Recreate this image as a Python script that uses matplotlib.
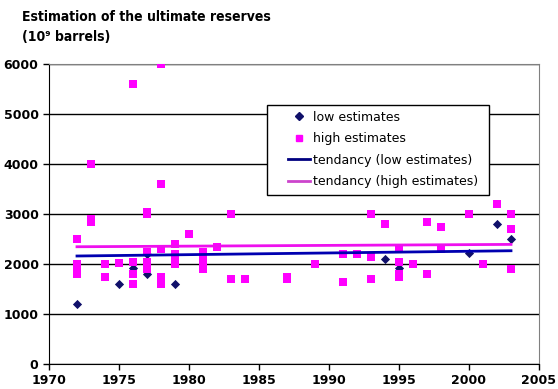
import matplotlib
matplotlib.use("Agg")
import matplotlib.pyplot as plt
from matplotlib.lines import Line2D
from matplotlib.legend_handler import HandlerLine2D
from matplotlib import font_manager

# ---- data ----
low_years = [1972, 1975, 1976, 1977, 1977, 1979, 1994, 1995, 2000, 2002, 2003]
low_values = [1200, 1600, 1930, 2200, 1800, 1600, 2100, 1920, 2230, 2800, 2500]

high_years = [1972, 1972, 1972, 1972, 1972,
              1973, 1973, 1973,
              1974, 1974,
              1975,
              1976, 1976, 1976, 1976,
              1977, 1977, 1977, 1977, 1977, 1977,
              1978, 1978, 1978, 1978, 1978,
              1979, 1979, 1979, 1979,
              1980,
              1981, 1981, 1981, 1981, 1981,
              1982,
              1983, 1983,
              1984,
              1987, 1987,
              1989,
              1991, 1991,
              1992,
              1993, 1993, 1993,
              1994,
              1995, 1995, 1995, 1995,
              1996,
              1997, 1997,
              1998, 1998,
              2000,
              2001,
              2002,
              2003, 2003, 2003]
high_values = [2500, 2000, 1900, 1850, 1800,
               4000, 2900, 2850,
               2000, 1750,
               2030,
               5600, 2050, 1800, 1600,
               3050, 3000, 2250, 2050, 1950, 1900,
               6000, 3600, 2300, 1750, 1600,
               2400, 2200, 2150, 2000,
               2600,
               2250, 2150, 2050, 1950, 1900,
               2350,
               3000, 1700,
               1700,
               1750, 1700,
               2000,
               2200, 1650,
               2200,
               3000, 2150, 1700,
               2800,
               2300, 2050, 1800, 1750,
               2000,
               2850, 1800,
               2750, 2300,
               3000,
               2000,
               3200,
               3000, 2700, 1900]

trend_years = [1972, 2003]
trend_low = [2160, 2265]
trend_high = [2345, 2392]

x_ticks = [1970, 1975, 1980, 1985, 1990, 1995, 2000, 2005]
y_ticks = [0, 1000, 2000, 3000, 4000, 5000, 6000]

title_text = "Estimation of the ultimate reserves\n(10\u2079 barrels)"
legend_labels = ["low estimates", "high estimates",
                 "tendancy (low estimates)", "tendancy (high estimates)"]

# ---- figure ----
fig = plt.figure(figsize=(5.58, 3.89), dpi=100)
ax = fig.add_axes([49 / 558, 1 - 364 / 389, 490 / 558, 300 / 389])

navy = "#10106a"
pink = "#ff00ff"

ax.set_xlim(1970, 2005)
ax.set_ylim(0, 6000)
ax.set_xticks(x_ticks)
ax.set_yticks(y_ticks)
ax.yaxis.grid(True, color="black", linewidth=1.0)
ax.set_axisbelow(True)

ax.scatter(low_years, low_values, marker="D", s=22, color=navy, zorder=3,
           linewidths=0)
ax.scatter(high_years, high_values, marker="s", s=30, color=pink, zorder=3,
           linewidths=0)
ax.plot(trend_years, trend_low, color="#0000b0", linewidth=2, zorder=4)
ax.plot(trend_years, trend_high, color="#ee10ee", linewidth=2, zorder=4)

for s in ["top", "right"]:
    ax.spines[s].set_color("#808080")
for s in ["left", "bottom"]:
    ax.spines[s].set_color("black")

ax.tick_params(axis="both", direction="out", length=4, width=1,
               labelsize=9, color="black")
for lab in ax.get_xticklabels() + ax.get_yticklabels():
    lab.set_fontweight("bold")

handles = [
    Line2D([], [], marker="D", linestyle="none", color=navy, markersize=4.5),
    Line2D([], [], marker="s", linestyle="none", color=pink, markersize=5),
    Line2D([], [], color="#000080", linewidth=2),
    Line2D([], [], color="#cc44cc", linewidth=2),
]
leg = ax.legend(handles, legend_labels, loc="upper left",
                bbox_to_anchor=(0.445, 0.567, 0.453, 0.298), mode="expand",
                fontsize=9, frameon=True, fancybox=False, edgecolor="black",
                framealpha=1, labelspacing=0.68, handlelength=2.96,
                handletextpad=0.25, borderpad=0.5, borderaxespad=0,
                handler_map={Line2D: HandlerLine2D(xpad=1.2)})
leg.get_frame().set_linewidth(1.0)

fp = font_manager.FontProperties(family="DejaVu Sans", weight="bold",
                                 stretch="condensed", size=10)
fig.text(22 / 558, 1 - 10 / 389, title_text, ha="left", va="top",
         fontproperties=fp, linespacing=1.55)

fig.savefig("out.png", dpi=100)
